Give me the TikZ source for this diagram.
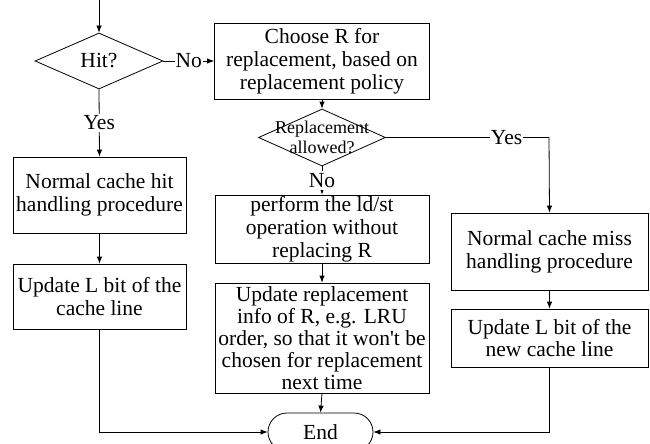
\documentclass[tikz,border=0pt]{standalone}
\usepackage{fontspec}
\setmainfont{Liberation Serif}
\newfontfamily\plainserif{Liberation Serif}
\usetikzlibrary{shapes.geometric,shapes.misc,arrows.meta}
\begin{document}
\begin{tikzpicture}[x=1pt,y=-1pt,
  line width=0.8pt,
  every node/.style={inner sep=0pt},
  txt/.style={font=\fontsize{21.5}{22.8}\selectfont},
  box/.style={draw, rectangle, align=center, txt},
  dia/.style={draw, diamond, inner sep=0pt},
  lab/.style={fill=white, txt, inner xsep=1pt, inner ysep=2pt},
  arr/.style={-{Latex[length=7pt,width=5.5pt]}},
  endshape/.style={draw, rounded rectangle, txt}
]
\useasboundingbox (0,0) rectangle (650,444);
\coordinate (start) at (99,0);
\node[dia, minimum width=128pt, minimum height=56pt, aspect=2.29, txt] (hit) at (99,61) {Hit?};
\node[box, minimum width=215pt, minimum height=76pt] (choose) at (322,61) {Choose R for\\replacement, based on\\replacement policy};
\node[dia, minimum width=127pt, minimum height=57pt, aspect=2.23] (repl) at (322,137.5) {};
\node[align=center, font=\fontsize{18}{20}\selectfont] (repltxt) at (322,137.5) {Replacement\\allowed?};
\node[box, minimum width=214pt, minimum height=68pt] (perform) at (322,229) {perform the ld/st\\operation without\\replacing R};
\node[box, minimum width=214pt, minimum height=110pt, font=\fontsize{21.5}{22}\selectfont] (upd) at (322,338) {Update replacement\\info of R, e.g. LRU\\order, so that it won{\plainserif'}t be\\chosen for replacement\\next time};
\node[box, minimum width=173pt, minimum height=76pt] (hitbox) at (99.5,195) {Normal cache hit\\handling procedure};
\node[box, minimum width=173pt, minimum height=65pt] (updL) at (99.5,296.5) {Update L bit of the\\cache line};
\node[box, minimum width=197pt, minimum height=77pt] (miss) at (549.5,251.5) {Normal cache miss\\handling procedure};
\node[box, minimum width=197pt, minimum height=58pt] (updN) at (549.5,338) {Update L bit of the\\new cache line};
\node[endshape, minimum width=105pt, minimum height=38pt] (end) at (320.5,432) {End};
\coordinate (yescorner) at (549,137.5);

\draw[arr] (start) -- (hit.north);
\draw[arr] (hit.east) -- node[lab] (no1) {No} (choose.west);
\draw[arr] (hit.south) -- node[lab] (yes1) {Yes} (hitbox.north);
\draw[arr] (choose.south) -- (repl.north);
\draw[arr] (repl.south) -- node[lab] (no2) {No} (perform.north);
\draw[arr] (repl.east) -- node[lab, pos=0.74] (yes2) {Yes} (yescorner) -- (miss.north);
\draw[arr] (hitbox.south) -- (updL.north);
\draw[arr] (perform.south) -- (upd.north);
\draw[arr] (upd.south) -- (end.north);
\draw[arr] (miss.south) -- (updN.north);
\draw[arr] (updL.south) |- (end.west);
\draw[arr] (updN.south) |- (end.east);
\end{tikzpicture}
\end{document}
